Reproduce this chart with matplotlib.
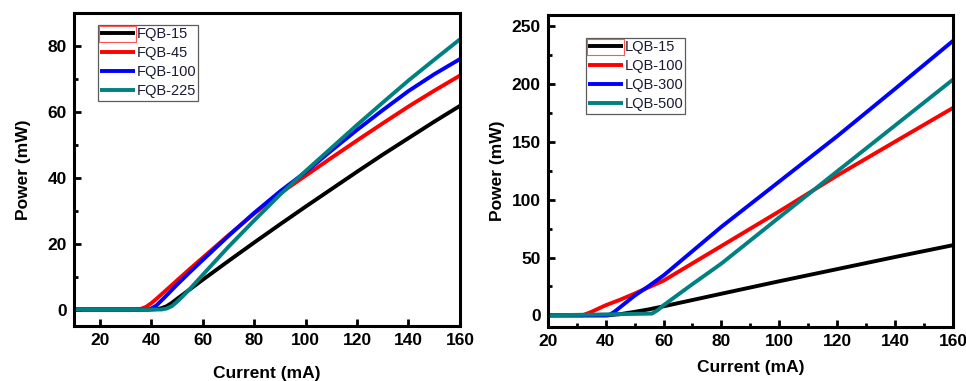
import numpy as np
import matplotlib
matplotlib.use("Agg")
import matplotlib.pyplot as plt
from matplotlib.patches import Rectangle
from matplotlib.ticker import MultipleLocator

# colours
black = "#000000"
red = "#ff0000"
blue = "#0000ff"
teal = "#008080"
legend_text = "#1a1a33"

# --- left panel data (FQB) ---
fqb_labels = ["FQB-15", "FQB-45", "FQB-100", "FQB-225"]
fqb15_x = [10, 40, 42, 44, 46, 48, 50, 55, 60, 70, 80, 90, 100, 110, 120, 130, 140, 150, 160]
fqb15_y = [0, 0, 0.1, 0.4, 1.0, 2.0, 3.2, 6.1, 9.0, 14.7, 20.3, 25.8, 31.2, 36.5, 41.8, 47.0, 52.0, 57.0, 61.8]
fqb45_x = [10, 35, 36, 38, 40, 42, 45, 50, 55, 60, 70, 80, 90, 100, 110, 120, 130, 140, 150, 160]
fqb45_y = [0, 0, 0.2, 0.8, 1.9, 3.2, 5.3, 8.8, 12.3, 15.7, 22.5, 29.1, 35.2, 40.6, 46.0, 51.3, 56.5, 61.6, 66.4, 71.0]
fqb100_x = [10, 39, 40, 42, 45, 50, 55, 60, 70, 80, 90, 100, 110, 120, 130, 140, 150, 160]
fqb100_y = [0, 0, 0.3, 1.2, 3.5, 7.5, 11.3, 15.0, 22.3, 29.3, 35.8, 41.7, 48.2, 54.5, 60.5, 66.3, 71.4, 76.0]
fqb225_x = [10, 44, 46, 48, 50, 52, 55, 60, 70, 80, 90, 100, 110, 120, 130, 140, 150, 160]
fqb225_y = [0, 0, 0.3, 1.0, 2.3, 3.8, 6.2, 10.5, 19.0, 27.0, 34.8, 42.0, 49.0, 56.0, 62.8, 69.5, 75.8, 82.0]

# --- right panel data (LQB) ---
lqb_labels = ["LQB-15", "LQB-100", "LQB-300", "LQB-500"]
lqb15_x = [20, 40, 45, 50, 55, 60, 80, 100, 120, 140, 160]
lqb15_y = [0, 0, 1.0, 3.0, 5.2, 7.8, 18.7, 29.5, 40.0, 50.5, 60.7]
lqb100_x = [20, 32, 35, 40, 45, 50, 60, 80, 100, 120, 140, 160]
lqb100_y = [0, 0, 2.9, 8.7, 13.5, 18.8, 30.0, 60.0, 90.0, 121.0, 150.3, 179.5]
lqb300_x = [20, 41, 43, 45, 50, 55, 60, 80, 100, 120, 140, 160]
lqb300_y = [0, 0, 3.0, 7.0, 17.0, 25.5, 34.5, 76.6, 115.8, 155.0, 196.0, 237.5]
lqb500_x = [20, 56, 58, 60, 70, 80, 100, 120, 140, 160]
lqb500_y = [0, 1.5, 4.5, 8.7, 27.0, 44.8, 84.8, 124.6, 164.3, 204.0]

plt.rcParams["font.family"] = ["Liberation Sans", "DejaVu Sans"]

fig = plt.figure(figsize=(9.66, 3.81), dpi=100)
ax1 = fig.add_axes([0.0766, 0.1444, 0.3995, 0.8216])
ax2 = fig.add_axes([0.567, 0.142, 0.4195, 0.819])

lw = 2.8
for ax, xs, ys, labels in [
    (ax1, [fqb15_x, fqb45_x, fqb100_x, fqb225_x], [fqb15_y, fqb45_y, fqb100_y, fqb225_y], fqb_labels),
    (ax2, [lqb15_x, lqb100_x, lqb300_x, lqb500_x], [lqb15_y, lqb100_y, lqb300_y, lqb500_y], lqb_labels),
]:
    for x, y, c, lab in zip(xs, ys, [black, red, blue, teal], labels):
        ax.plot(x, y, color=c, lw=lw, label=lab, solid_capstyle="butt")

# axis ranges and ticks
ax1.set_xlim(10, 160)
ax1.set_ylim(-5, 90)
ax1.xaxis.set_major_locator(MultipleLocator(20))
ax1.yaxis.set_major_locator(MultipleLocator(20))
ax1.yaxis.set_minor_locator(MultipleLocator(10))

ax2.set_xlim(20, 160)
ax2.set_ylim(-10, 260)
ax2.xaxis.set_major_locator(MultipleLocator(20))
ax2.xaxis.set_minor_locator(MultipleLocator(10))
ax2.yaxis.set_major_locator(MultipleLocator(50))
ax2.yaxis.set_minor_locator(MultipleLocator(25))

for ax in (ax1, ax2):
    for s in ax.spines.values():
        s.set_linewidth(2.2)
    ax.tick_params(which="major", direction="in", length=5, width=2, labelsize=12.5, pad=5)
    ax.tick_params(which="minor", direction="in", length=3, width=2)
    for t in ax.get_xticklabels() + ax.get_yticklabels():
        t.set_fontweight("bold")
    ax.set_xlabel("Current (mA)", fontsize=12.5, fontweight="bold")
    ax.set_ylabel("Power (mW)", fontsize=12.5, fontweight="bold")

ax1.xaxis.labelpad = 13
ax2.xaxis.labelpad = 8
ax1.yaxis.labelpad = 12
ax2.yaxis.labelpad = 5

# legends
leg_fs = 10.5
hlen = 2.4
hpad = 0.1
legs = []
for ax, anchor in [(ax1, (0.062, 0.962)), (ax2, (0.094, 0.926))]:
    leg = ax.legend(loc="upper left", bbox_to_anchor=anchor, borderaxespad=0,
                    fontsize=leg_fs, handlelength=hlen, handletextpad=hpad,
                    labelspacing=0.35, borderpad=0.15, frameon=True, fancybox=False)
    leg.get_frame().set_edgecolor("#333333")
    leg.get_frame().set_linewidth(0.9)
    for t in leg.get_texts():
        t.set_color(legend_text)
    legs.append(leg)

# red selection box around the first legend handle (as in the original screenshot)
fig.canvas.draw()
fs_px = leg_fs * fig.dpi / 72
for leg in legs:
    tb = leg.get_texts()[0].get_window_extent()
    x1 = tb.x0 - hpad * fs_px + 1
    x0 = x1 - hlen * fs_px - 2
    yc = (tb.y0 + tb.y1) / 2
    fig.add_artist(Rectangle((x0 / 966, (yc - 8) / 381), (x1 - x0) / 966, 16 / 381,
                             transform=fig.transFigure, fill=False,
                             edgecolor="#ff5555", lw=0.8))

fig.savefig("out.png", dpi=100)
